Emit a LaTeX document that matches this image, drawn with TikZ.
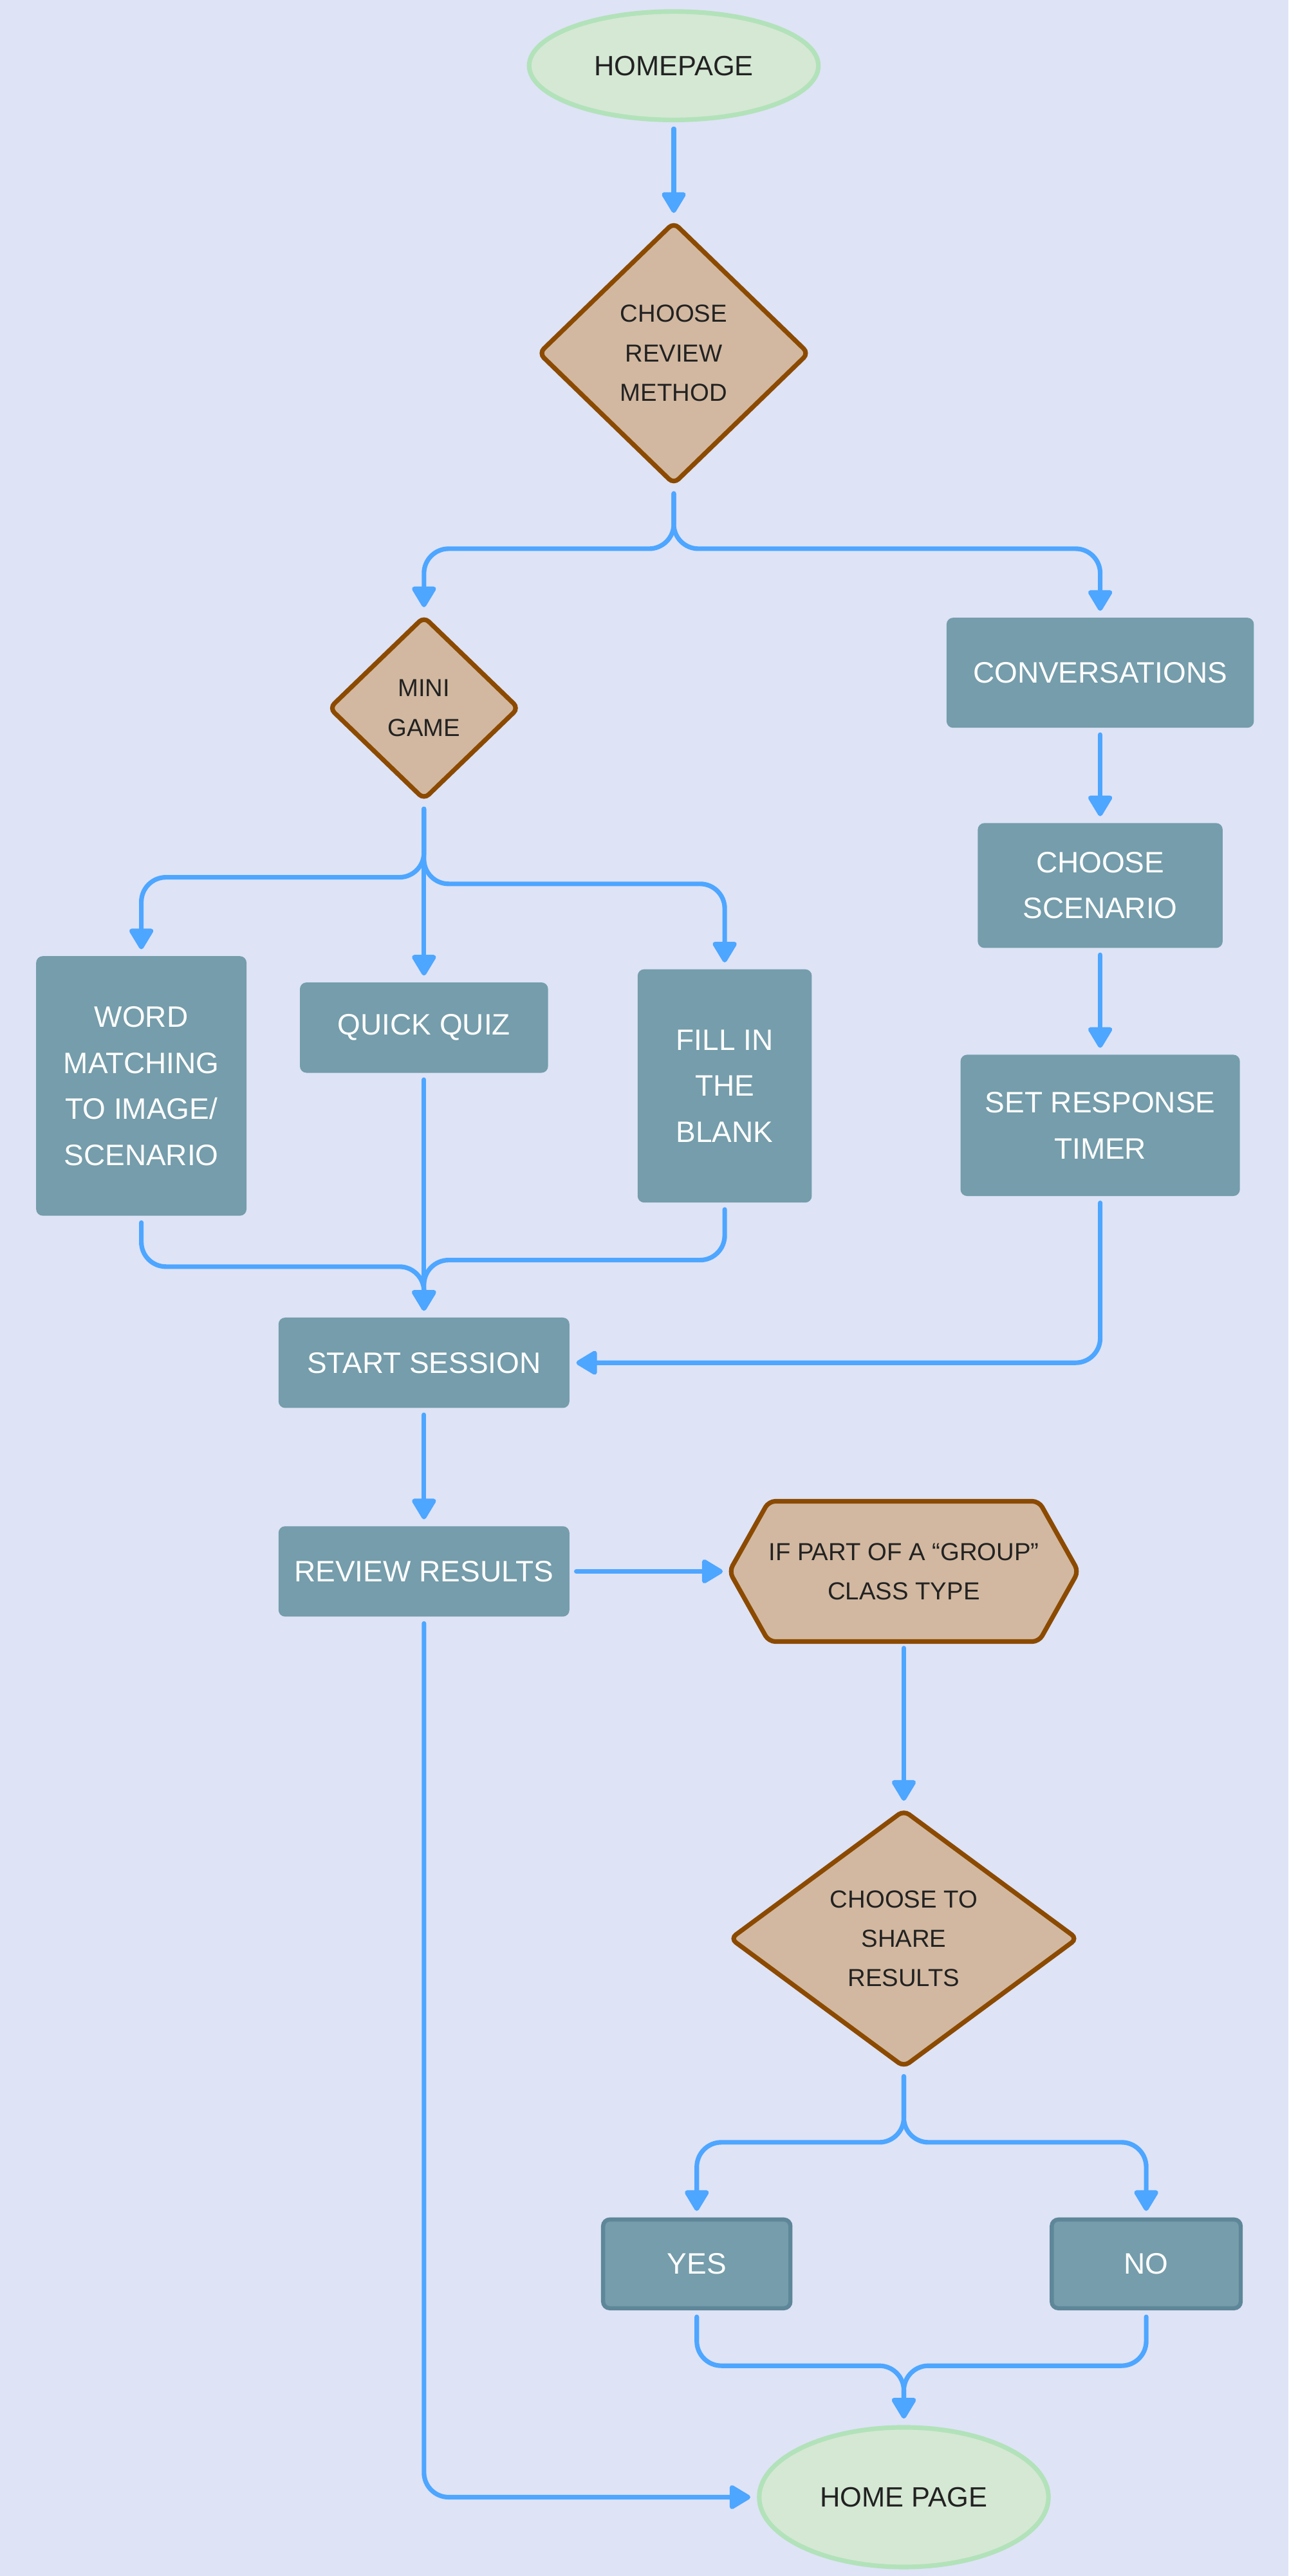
\documentclass[tikz,border=0pt]{standalone}
\usepackage{fontspec}
\setmainfont{Liberation Sans}
\usetikzlibrary{shapes.geometric,arrows.meta}
\definecolor{bgc}{HTML}{DEE3F6}
\definecolor{boxc}{HTML}{759DAB}
\definecolor{boxline}{HTML}{5E8799}
\definecolor{diafill}{HTML}{D2B8A0}
\definecolor{dialine}{HTML}{8B4A00}
\definecolor{ellfill}{HTML}{D5E8D4}
\definecolor{ellline}{HTML}{B2E2B9}
\definecolor{arrc}{HTML}{4DA6FF}
\definecolor{txtc}{HTML}{222222}
\pgfdeclarelayer{bg}
\pgfdeclarelayer{shp}
\pgfsetlayers{bg,shp,main}
\begin{document}
\begin{tikzpicture}[x=1pt,y=-1pt,
  procbox/.style={fill=boxc, rounded corners=4pt, text=white, align=center, inner sep=0pt,
    font=\fontsize{18pt}{28pt}\selectfont},
  framedbox/.style={procbox, draw=boxline, line width=2.5pt},
  decbox/.style={diamond, fill=diafill, draw=dialine, line width=2.8pt, rounded corners=4pt,
    text=txtc, align=center, inner sep=0pt, aspect=1,
    font=\fontsize{15pt}{24pt}\selectfont},
  hexnode/.style={rectangle, inner sep=0pt, text=txtc, align=center,
    font=\fontsize{15pt}{24pt}\selectfont},
  hexline/.style={fill=diafill, draw=dialine, line width=2.8pt, rounded corners=4pt},
  termnode/.style={ellipse, fill=ellfill, draw=ellline, line width=2.8pt, text=txtc,
    inner sep=0pt, font=\fontsize{17pt}{24pt}\selectfont},
  conn/.style={draw=arrc, line width=2.8pt, line cap=round, rounded corners=15pt,
    -{Triangle[width=16pt,length=14pt,round]}, shorten <=4pt, shorten >=4pt}
]
\begin{pgfonlayer}{bg}
\fill[bgc] (0,0) rectangle (784,1568);
\end{pgfonlayer}
\useasboundingbox (0,0) rectangle (784,1568);

% nodes
\node[termnode, minimum width=176pt, minimum height=66pt] (home) at (410,40) {HOMEPAGE};
\node[decbox, minimum width=165pt, minimum height=160pt] (crm) at (410,215) {CHOOSE\\REVIEW\\METHOD};
\node[decbox, minimum width=116pt, minimum height=112pt] (mini) at (258,431) {MINI\\GAME};
\node[procbox, minimum width=187pt, minimum height=67pt] (conv) at (669.5,409.5) {CONVERSATIONS};
\node[procbox, minimum width=149pt, minimum height=76pt] (cs) at (669.5,539) {CHOOSE\\SCENARIO};
\node[procbox, minimum width=170pt, minimum height=86pt] (srt) at (669.5,685) {SET RESPONSE\\TIMER};
\node[procbox, minimum width=128pt, minimum height=158pt] (word) at (86,661) {WORD\\MATCHING\\TO IMAGE/\\SCENARIO};
\node[procbox, minimum width=151pt, minimum height=55pt] (qq) at (258,625.5) {QUICK QUIZ};
\node[procbox, minimum width=106pt, minimum height=142pt] (fill) at (441,661) {FILL IN\\THE\\BLANK};
\node[procbox, minimum width=177pt, minimum height=55pt] (start) at (258,829.5) {START SESSION};
\node[procbox, minimum width=177pt, minimum height=55pt] (rr) at (258,956.5) {REVIEW RESULTS};
\node[hexnode, minimum width=212pt, minimum height=85pt] (hex) at (550,956.5) {IF PART OF A “GROUP”\\CLASS TYPE};
\begin{pgfonlayer}{shp}
\draw[hexline] (hex.west) -- ([xshift=24pt]hex.north west) -- ([xshift=-24pt]hex.north east)
  -- (hex.east) -- ([xshift=-24pt]hex.south east) -- ([xshift=24pt]hex.south west) -- cycle;
\end{pgfonlayer}
\node[decbox, minimum width=212pt, minimum height=157pt] (cts) at (550,1180) {CHOOSE TO\\SHARE\\RESULTS};
\node[framedbox, minimum width=114pt, minimum height=54pt] (yes) at (424,1378) {YES};
\node[framedbox, minimum width=115pt, minimum height=54pt] (no) at (697.5,1378) {NO};
\node[termnode, minimum width=176pt, minimum height=85pt] (hp) at (550,1520) {HOME PAGE};

% connectors
\draw[conn] (home.south) -- (crm.north);
\draw[conn] (crm.south) -- (crm.south |- 0,334) -| (mini.north);
\draw[conn] (crm.south) -- (crm.south |- 0,334) -| (conv.north);
\draw[conn] (conv.south) -- (cs.north);
\draw[conn] (cs.south) -- (srt.north);
\draw[conn] (mini.south) -- (mini.south |- 0,534) -| (word.north);
\draw[conn] (mini.south) -- (qq.north);
\draw[conn] (mini.south) -- (mini.south |- 0,538) -| (fill.north);
\draw[conn] (word.south) -- (word.south |- 0,771) -| (start.north);
\draw[conn] (qq.south) -- (start.north);
\draw[conn] (fill.south) -- (fill.south |- 0,767) -| (start.north);
\draw[conn] (srt.south) |- (start.east);
\draw[conn] (start.south) -- (rr.north);
\draw[conn] (rr.east) -- (hex.west);
\draw[conn] (hex.south) -- (cts.north);
\draw[conn] (cts.south) -- (cts.south |- 0,1304) -| (yes.north);
\draw[conn] (cts.south) -- (cts.south |- 0,1304) -| (no.north);
\draw[conn] (yes.south) -- (yes.south |- 0,1440) -| (hp.north);
\draw[conn] (no.south) -- (no.south |- 0,1440) -| (hp.north);
\draw[conn] (rr.south) |- (hp.west);
\end{tikzpicture}
\end{document}
